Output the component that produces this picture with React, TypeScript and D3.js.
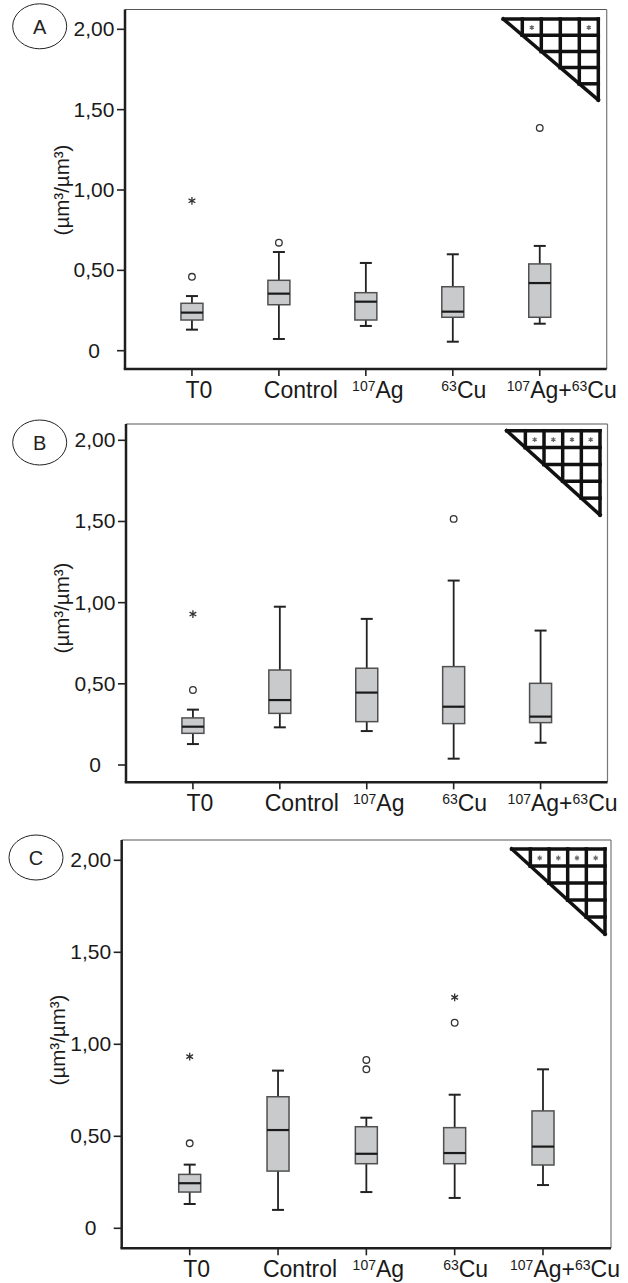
import React from "react";
import * as d3 from "d3";

// ---------- DATA ----------
const categories = ["T0", "Control", "107Ag", "63Cu", "107Ag+63Cu"];
// x tick labels: [superscript, text] pairs
const xTickLabelParts: [string, string][][] = [
  [["", "T0"]],
  [["", "Control"]],
  [["107", "Ag"]],
  [["63", "Cu"]],
  [["107", "Ag+"], ["63", "Cu"]],
];
const yTickValues = [0, 0.5, 1, 1.5, 2];
const yTickLabels = ["0", "0,50", "1,00", "1,50", "2,00"];
const yAxisTitle = "(µm³/µm³)";
const panelNames = ["A", "B", "C"];

// [lower whisker, Q1, median, Q3, upper whisker]
const statsA = [
  [0.131, 0.191, 0.237, 0.295, 0.34],
  [0.073, 0.286, 0.355, 0.438, 0.614],
  [0.154, 0.191, 0.305, 0.361, 0.546],
  [0.056, 0.208, 0.243, 0.398, 0.6],
  [0.168, 0.208, 0.421, 0.54, 0.652],
];
const outliersA = [[0.46], [0.672], [], [], [1.386]];
const extremesA = [[0.933], [], [], [], []];

const statsB = [
  [0.129, 0.195, 0.236, 0.29, 0.341],
  [0.232, 0.318, 0.4, 0.585, 0.975],
  [0.209, 0.267, 0.446, 0.596, 0.9],
  [0.039, 0.255, 0.359, 0.606, 1.136],
  [0.137, 0.261, 0.298, 0.503, 0.828],
];
const outliersB = [[0.462], [], [], [1.516], []];
const extremesB = [[0.93], [], [], [], []];

const statsC = [
  [0.132, 0.197, 0.245, 0.293, 0.346],
  [0.1, 0.311, 0.534, 0.715, 0.857],
  [0.197, 0.351, 0.405, 0.552, 0.601],
  [0.165, 0.351, 0.409, 0.547, 0.726],
  [0.235, 0.344, 0.444, 0.638, 0.864],
];
const outliersC = [[0.462], [], [0.915, 0.864], [1.117], []];
const extremesC = [[0.933], [], [], [1.255], []];

// significance matrix: [row, col] cells holding an asterisk
const sigA = [[0, 1], [0, 4]];
const sigB = [[0, 1], [0, 2], [0, 3], [0, 4]];
const sigC = [[0, 1], [0, 2], [0, 3], [0, 4]];

// ---------- LAYOUT ----------
const layouts = [
  { left: 125, right: 606.7, top: 9.5, bottom: 369, y0: 350.7, y2: 29.3,
    ell: [39.7, 26.3], tri: [503.3, 19, 95, 81], titleX: 69, titleY: 190, labelBase: 397.7 },
  { left: 126, right: 607.5, top: 424, bottom: 782.3, y0: 765, y2: 440.3,
    ell: [39.7, 442.5], tri: [506.7, 430.7, 93.3, 84.3], titleX: 69, titleY: 608, labelBase: 811 },
  { left: 121.7, right: 611, top: 840, bottom: 1248.3, y0: 1228.3, y2: 860.3,
    ell: [36, 857.5], tri: [511.7, 849, 93.3, 85], titleX: 65, titleY: 1040, labelBase: 1276.7 },
];
const labelDx = [7, 22, 12, 11, 22];

const panelsData = [
  { stats: statsA, outliers: outliersA, extremes: extremesA, sig: sigA },
  { stats: statsB, outliers: outliersB, extremes: extremesB, sig: sigB },
  { stats: statsC, outliers: outliersC, extremes: extremesC, sig: sigC },
];

const FONT = "'Liberation Sans', Arial, Helvetica, sans-serif";
const asterisk = d3.symbol(d3.symbolAsterisk, 42)();
const smallAsterisk = d3.symbol(d3.symbolAsterisk, 16)();

function Panel({ idx }: { idx: number }) {
  const L = layouts[idx];
  const D = panelsData[idx];
  const x = d3.scalePoint<string>().domain(categories).range([L.left, L.right]).padding(0.77);
  const y = d3.scaleLinear().domain([0, 2]).range([L.y0, L.y2]);
  const bw = 22;
  const cap = 12;
  const [tx, ty, tw, th] = L.tri;
  const n = 5;
  const cw = tw / n;
  const rh = th / n;
  return (
    <g>
      {/* panel label */}
      <ellipse cx={L.ell[0]} cy={L.ell[1]} rx={27} ry={22.5} fill="none" stroke="#222" strokeWidth={1} />
      <text x={L.ell[0]} y={L.ell[1] + 7.5} textAnchor="middle" fontSize={20} fontFamily={FONT} fill="#222">
        {panelNames[idx]}
      </text>
      {/* frame */}
      <line x1={L.left} x2={L.right} y1={L.top} y2={L.top} stroke="#555" strokeWidth={1.2} />
      <line x1={L.right} x2={L.right} y1={L.top} y2={L.bottom} stroke="#777" strokeWidth={1.2} />
      <line x1={L.left} x2={L.left} y1={L.top} y2={L.bottom} stroke="#1e1e1e" strokeWidth={2.5} />
      <line x1={L.left - 1.25} x2={L.right} y1={L.bottom} y2={L.bottom} stroke="#1e1e1e" strokeWidth={2.5} />
      {/* y axis */}
      {yTickValues.map((v, i) => (
        <g key={"yt" + i}>
          <line x1={L.left - 8} x2={L.left} y1={y(v)} y2={y(v)} stroke="#222" strokeWidth={1.6} />
          <text x={L.left - 31} y={y(v)} dy="0.33em" textAnchor="middle" fontSize={21} fontFamily={FONT} fill="#1a1a1a">
            {yTickLabels[i]}
          </text>
        </g>
      ))}
      <text
        transform={`translate(${L.titleX},${L.titleY}) rotate(-90)`}
        textAnchor="middle"
        fontSize={20.5}
        fontFamily={FONT}
        fill="#1a1a1a"
      >
        {yAxisTitle}
      </text>
      {/* x axis */}
      {categories.map((c, i) => (
        <g key={"xt" + i}>
          <line x1={x(c)} x2={x(c)} y1={L.bottom} y2={L.bottom + 7} stroke="#222" strokeWidth={1.6} />
          <text x={(x(c) as number) + labelDx[i]} y={L.labelBase} textAnchor="middle" fontSize={23} fontFamily={FONT} fill="#1a1a1a">
            {xTickLabelParts[i].map((p, j) => (
              <React.Fragment key={j}>
                {p[0] ? (
                  <tspan fontSize={14} dy={-7}>{p[0]}</tspan>
                ) : null}
                <tspan dy={p[0] ? 7 : 0}>{p[1]}</tspan>
              </React.Fragment>
            ))}
          </text>
        </g>
      ))}
      {/* boxes */}
      {categories.map((c, i) => {
        const cx = x(c) as number;
        const [lo, q1, md, q3, hi] = D.stats[i];
        return (
          <g key={"b" + i}>
            <line x1={cx} x2={cx} y1={y(hi)} y2={y(q3)} stroke="#222" strokeWidth={1.8} />
            <line x1={cx} x2={cx} y1={y(q1)} y2={y(lo)} stroke="#222" strokeWidth={1.8} />
            <line x1={cx - cap / 2} x2={cx + cap / 2} y1={y(hi)} y2={y(hi)} stroke="#222" strokeWidth={2} />
            <line x1={cx - cap / 2} x2={cx + cap / 2} y1={y(lo)} y2={y(lo)} stroke="#222" strokeWidth={2} />
            <rect x={cx - bw / 2} width={bw} y={y(q3)} height={y(q1) - y(q3)} fill="#c9cacc" stroke="#505050" strokeWidth={1.5} />
            <line x1={cx - bw / 2} x2={cx + bw / 2} y1={y(md)} y2={y(md)} stroke="#1a1a1a" strokeWidth={2.2} />
            {D.outliers[i].map((v, k) => (
              <circle key={"o" + k} cx={cx} cy={y(v)} r={3.3} fill="#fff" stroke="#333" strokeWidth={1.3} />
            ))}
            {D.extremes[i].map((v, k) => (
              <path key={"e" + k} d={asterisk as string} transform={`translate(${cx},${y(v)})`} fill="none" stroke="#333" strokeWidth={1.3} />
            ))}
          </g>
        );
      })}
      {/* significance triangle */}
      <g stroke="#111" strokeWidth={3.5} strokeLinecap="square" fill="none">
        <line x1={tx} y1={ty} x2={tx + tw} y2={ty + th} />
        {d3.range(0, n).map((r) => (
          <line key={"h" + r} x1={tx + r * cw} x2={tx + tw} y1={ty + r * rh} y2={ty + r * rh} />
        ))}
        {d3.range(1, n + 1).map((c) => (
          <line key={"v" + c} x1={tx + c * cw} x2={tx + c * cw} y1={ty} y2={ty + c * rh} />
        ))}
      </g>
      {D.sig.map(([r, c], k) => (
        <path
          key={"s" + k}
          d={smallAsterisk as string}
          transform={`translate(${tx + (c + 0.5) * cw},${ty + (r + 0.5) * rh + 0.5})`}
          fill="none"
          stroke="#666"
          strokeWidth={1.2}
        />
      ))}
    </g>
  );
}

export default function App() {
  return (
    <div style={{ position: "absolute", left: 0, top: 0 }}>
      <svg width={628} height={1283} style={{ display: "block", background: "#fff" }}>
        <rect width={628} height={1283} fill="#fff" />
        {[0, 1, 2].map((i) => (
          <Panel key={i} idx={i} />
        ))}
      </svg>
    </div>
  );
}
